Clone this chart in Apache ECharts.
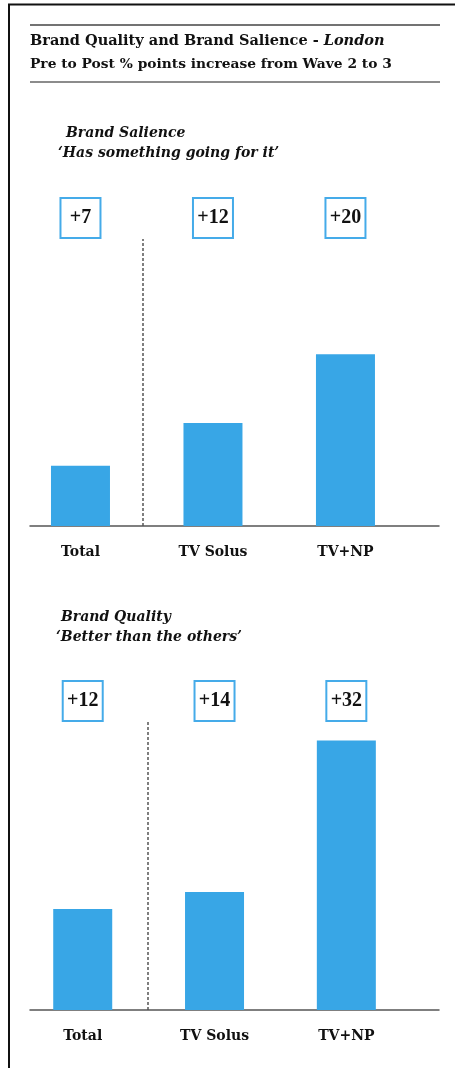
<!DOCTYPE html>
<html>
<head>
<meta charset="utf-8">
<script src="https://cdn.jsdelivr.net/npm/echarts@6/dist/echarts.min.js"></script>
<style>
  html, body { margin: 0; padding: 0; background: #fff; }
  #chart { width: 455px; height: 1068px; }
</style>
</head>
<body>
<div id="chart"></div>
<script>
// Categories shared by both panels
const categories = ['Total', 'TV Solus', 'TV+NP'];
// Pre-to-post % point increases
const salienceValues = [7, 12, 20];
const qualityValues = [12, 14, 32];

const BLUE = '#38a6e6';
const SERIF = '"DejaVu Serif", serif';
const NUM_FONT = '"Liberation Serif", serif';
const positions = [0, 1, 2];

const chart = echarts.init(document.getElementById('chart'), null, { renderer: 'canvas' });

// Builds the axes for one panel: category labels below, boxed increases above
function panel(gridIndex, values, xRange, yMax, dividerAt) {
  const xAxes = [
    {
      type: 'value', gridIndex, position: 'bottom',
      min: xRange[0], max: xRange[1],
      axisLine: { show: true, onZero: false, lineStyle: { color: '#555', width: 1.5 } },
      axisTick: { show: false },
      splitLine: { show: false },
      axisLabel: {
        customValues: positions,
        formatter: v => categories[Math.round(v)],
        margin: 19,
        fontFamily: SERIF, fontWeight: 'bold', fontSize: 14, color: '#111'
      }
    },
    {
      type: 'value', gridIndex, position: 'top',
      min: xRange[0], max: xRange[1],
      axisLine: { show: false },
      axisTick: { show: false },
      splitLine: { show: false },
      axisLabel: {
        customValues: positions,
        formatter: v => '+' + values[Math.round(v)],
        margin: 2,
        fontFamily: NUM_FONT, fontWeight: 'bold', fontSize: 20, color: '#111',
        width: 38, height: 38, lineHeight: 38, align: 'center',
        borderColor: '#45abe9', borderWidth: 2, backgroundColor: '#fff'
      }
    }
  ];
  const yAxis = {
    type: 'value', gridIndex, min: 0, max: yMax,
    show: false, splitLine: { show: false }
  };
  return { xAxes, yAxis, values, dividerAt };
}

const panels = [
  panel(0, salienceValues, [-0.381, 2.706], 33.4, 0.47),
  panel(1, qualityValues, [-0.40, 2.703], 34.2, 0.495)
];

const xAxis = [];
const yAxis = [];
const series = [];
panels.forEach((p, i) => {
  xAxis.push(...p.xAxes);
  yAxis.push(p.yAxis);
  series.push({
    type: 'bar',
    xAxisIndex: i * 2,
    yAxisIndex: i,
    barWidth: 59,
    itemStyle: { color: BLUE },
    data: p.values.map((v, k) => [positions[k], v]),
    markLine: {
      silent: true,
      symbol: 'none',
      label: { show: false },
      lineStyle: { color: '#555', type: [3, 2], width: 1.5 },
      data: [{ xAxis: p.dividerAt }]
    }
  });
});

const headingStyle = { fontFamily: SERIF, fontWeight: 'bold', fontStyle: 'italic', fontSize: 14, color: '#111' };

chart.setOption({
  animation: false,
  backgroundColor: '#fff',
  title: [
    {
      left: 30, top: 30, padding: 0,
      text: '{b|Brand Quality and Brand Salience - }{i|London}\n{c|Pre to Post % points increase from Wave 2 to 3}',
      textStyle: {
        rich: {
          b: { fontFamily: SERIF, fontWeight: 'bold', fontSize: 14.5, color: '#111', lineHeight: 23 },
          i: { fontFamily: SERIF, fontWeight: 'bold', fontStyle: 'italic', fontSize: 14.5, color: '#111', lineHeight: 23 },
          c: { fontFamily: SERIF, fontWeight: 'bold', fontSize: 13.8, color: '#111', lineHeight: 23 }
        }
      }
    },
    { left: 66, top: 126, padding: 0, text: 'Brand Salience', textStyle: headingStyle },
    { left: 58, top: 146, padding: 0, text: '‘Has something going for it’', textStyle: headingStyle },
    { left: 61, top: 610, padding: 0, text: 'Brand Quality', textStyle: headingStyle },
    { left: 56, top: 630, padding: 0, text: '‘Better than the others’', textStyle: headingStyle }
  ],
  grid: [
    { left: 30, right: 16, top: 239, bottom: 1068 - 526 },
    { left: 30, right: 16, top: 722, bottom: 1068 - 1010 }
  ],
  xAxis,
  yAxis,
  series,
  graphic: [
    // page frame: top and left edges
    { type: 'line', shape: { x1: 8, y1: 4.5, x2: 455, y2: 4.5 }, style: { stroke: '#111', lineWidth: 2 } },
    { type: 'line', shape: { x1: 9, y1: 4, x2: 9, y2: 1068 }, style: { stroke: '#111', lineWidth: 2 } },
    // rules above and below the heading
    { type: 'line', shape: { x1: 30, y1: 25, x2: 440, y2: 25 }, style: { stroke: '#444', lineWidth: 1.5 } },
    { type: 'line', shape: { x1: 30, y1: 82, x2: 440, y2: 82 }, style: { stroke: '#666', lineWidth: 1.5 } }
  ]
});
</script>
</body>
</html>
